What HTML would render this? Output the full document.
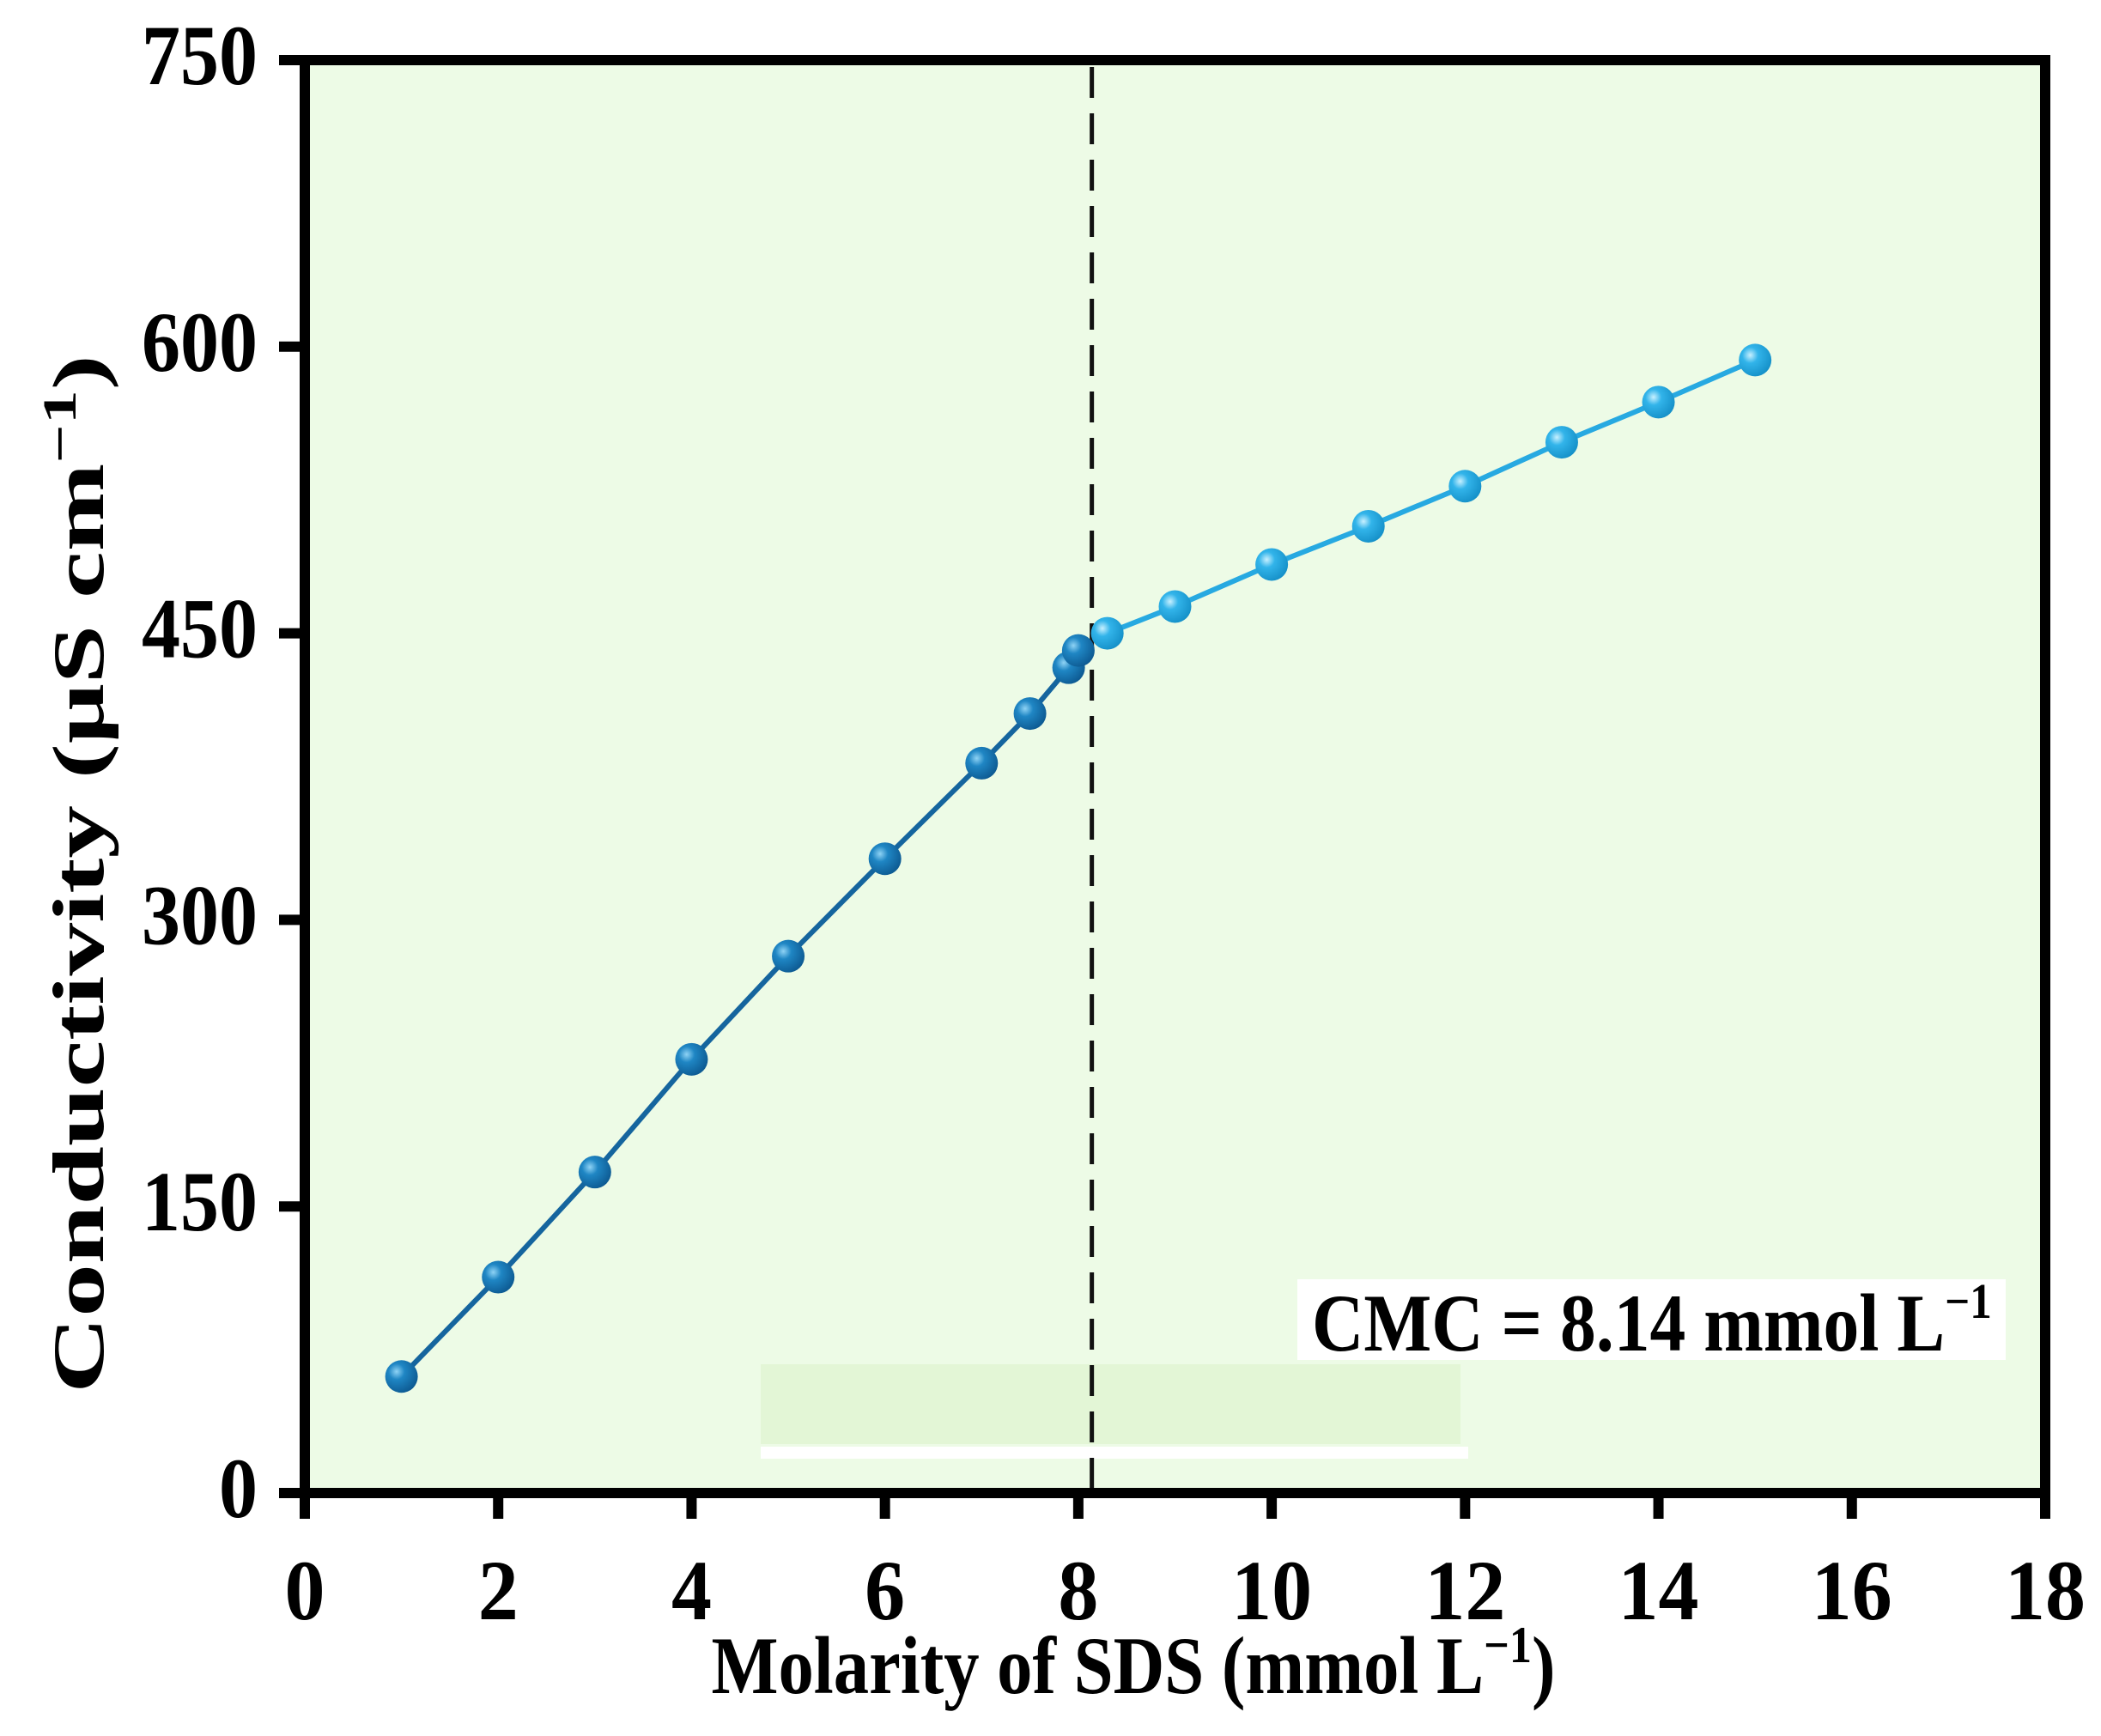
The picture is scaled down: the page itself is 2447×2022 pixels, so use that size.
<!DOCTYPE html>
<html><head><meta charset="utf-8">
<style>
html,body{margin:0;padding:0;background:#fff;}
svg{display:block;}
text{font-family:"Liberation Serif",serif;font-weight:bold;fill:#000;}
</style></head>
<body>
<svg id="chart" width="2447" height="2022" viewBox="0 0 2447 2022" xmlns="http://www.w3.org/2000/svg">
<defs>
<radialGradient id="gDark" cx="0.35" cy="0.35" r="0.7">
<stop offset="0" stop-color="#8fd3f5"/><stop offset="0.35" stop-color="#1f86c4"/><stop offset="1" stop-color="#0d5a92"/>
</radialGradient>
<radialGradient id="gLight" cx="0.35" cy="0.35" r="0.7">
<stop offset="0" stop-color="#c8f0ff"/><stop offset="0.35" stop-color="#32b4ea"/><stop offset="1" stop-color="#1590c8"/>
</radialGradient>
</defs>
<rect x="355" y="70" width="2027" height="1669" fill="#edfbe6"/>
<rect x="886" y="1589" width="815" height="93" fill="#e3f6d6"/>
<rect x="886" y="1685" width="824" height="14" fill="#ffffff"/>
<g id="dash"></g>
<g id="series"></g>
<g id="axes"></g>
<rect x="1511" y="1490" width="825" height="94" fill="#ffffff"/>
<text transform="translate(1528,1573) scale(0.88,1)" font-size="95">CMC = 8.14 mmol L<tspan font-size="58" dy="-38">−1</tspan></text>
<text transform="translate(1320,1972) scale(0.87,1)" font-size="95" text-anchor="middle">Molarity of SDS (mmol L<tspan font-size="60" dy="-36">−1</tspan><tspan dy="36">)</tspan></text>
<text transform="translate(120,1018) rotate(-90) scale(1.45,1)" font-size="85" text-anchor="middle">Conductivity (μS cm<tspan font-size="55" dy="-32">−1</tspan><tspan dy="32">)</tspan></text>
</svg>
<script>
const xsBelow = [1, 2, 3, 4, 5, 6, 7, 7.5, 7.9, 8.0];
const ysBelow = [61, 113, 168, 227, 281, 332, 382, 408, 432, 441];
const xsAbove = [8.3, 9, 10, 11, 12, 13, 14, 15];
const ysAbove = [450, 464, 486, 506, 527, 550, 571, 593];
const xTicks = [0, 2, 4, 6, 8, 10, 12, 14, 16, 18];
const yTicks = [0, 150, 300, 450, 600, 750];
const cmcValue = 8.14;

const NS = "http://www.w3.org/2000/svg";
const X0 = 355, X1 = 2382, Y0 = 1739, Y1 = 70;
const sx = v => X0 + (v - 0) / 18 * (X1 - X0);
const sy = v => Y0 - (v - 0) / 750 * (Y0 - Y1);
function mk(tag, attrs, parent) {
  const e = document.createElementNS(NS, tag);
  for (const k in attrs) e.setAttribute(k, attrs[k]);
  parent.appendChild(e);
  return e;
}
const series = document.getElementById('series');
const axes = document.getElementById('axes');
const dash = document.getElementById('dash');

const dl = mk('line', {x1: sx(cmcValue), x2: sx(cmcValue), y1: Y1 + 8, y2: Y0, stroke: '#111', 'stroke-width': 5, 'stroke-dasharray': '36,18'}, dash);



function drawSeries(xs, ys, color, grad, name) {
  const p = mk('polyline', {points: xs.map((x, i) => sx(x) + ',' + sy(ys[i])).join(' '), fill: 'none', stroke: color, 'stroke-width': 6}, series);
  
  
  xs.forEach((x, i) => {
    const c = mk('circle', {cx: sx(x), cy: sy(ys[i]), r: 19, fill: 'url(#' + grad + ')'}, series);
    
    
  });
}
drawSeries(xsBelow, ysBelow, '#15659e', 'gDark', 'below-cmc');
drawSeries(xsAbove, ysAbove, '#27a9e1', 'gLight', 'above-cmc');

const frame = mk('rect', {x: X0, y: Y1, width: X1 - X0, height: Y0 - Y1, fill: 'none', stroke: '#000', 'stroke-width': 12}, axes);



xTicks.forEach(t => {
  const l = mk('line', {x1: sx(t), x2: sx(t), y1: Y0, y2: Y0 + 30, stroke: '#000', 'stroke-width': 12}, axes);
  
  
  const s = String(t);
  const tx = mk('text', {x: sx(t), y: 1886, 'font-size': 100, 'text-anchor': 'middle', textLength: s.length * 47, lengthAdjust: 'spacingAndGlyphs'}, axes);
  tx.textContent = s;
  
  
});
yTicks.forEach(t => {
  const l = mk('line', {x1: X0 - 30, x2: X0, y1: sy(t), y2: sy(t), stroke: '#000', 'stroke-width': 12}, axes);
  
  
  const s = String(t);
  const tx = mk('text', {x: 300, y: sy(t) + 28, 'font-size': 100, 'text-anchor': 'end', textLength: s.length * 45, lengthAdjust: 'spacingAndGlyphs'}, axes);
  tx.textContent = s;
  
  
});
</script>
</body></html>
